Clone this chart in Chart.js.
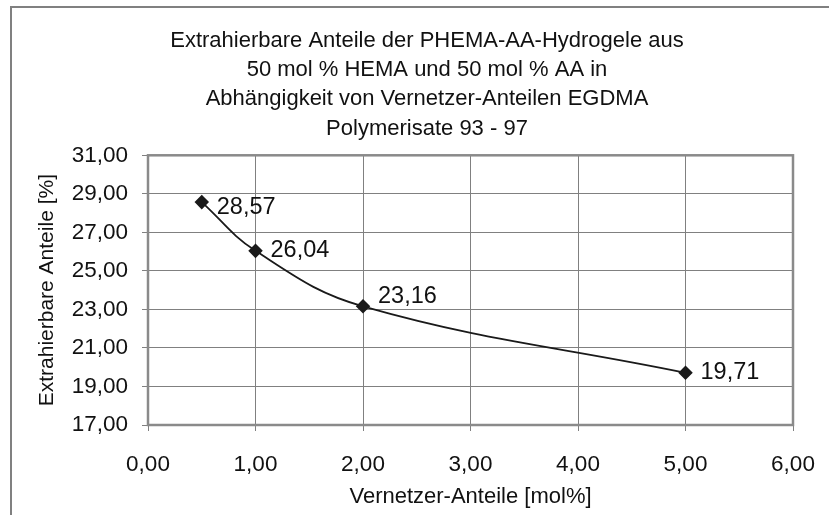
<!DOCTYPE html>
<html>
<head>
<meta charset="utf-8">
<script src="https://cdn.jsdelivr.net/npm/chart.js@4.4.1/dist/chart.umd.min.js"></script>
<style>
    html, body { margin: 0; padding: 0; background: #fff; overflow: hidden; }
    #frame {
        position: absolute; left: 10px; top: 6px;
        width: 860px; height: 560px;
        border: 2px solid #808080;
        background: #fff;
    }
    #wrap { position: absolute; left: 0; top: 0; width: 830px; height: 510px; }
</style>
</head>
<body>
<div id="frame"><div id="wrap"><canvas id="chart"></canvas></div></div>
<script>
// Vernetzer-Anteile [mol%] vs. extrahierbare Anteile [%]
const crosslinker = [0.5, 1, 2, 5];
const extractable = [28.57, 26.04, 23.16, 19.71];

const titleLines = [
    'Extrahierbare Anteile der PHEMA-AA-Hydrogele aus',
    '50 mol % HEMA und 50 mol % AA in',
    'Abhängigkeit von Vernetzer-Anteilen EGDMA',
    'Polymerisate 93 - 97'
];
const xTitle = 'Vernetzer-Anteile [mol%]';
const yTitle = 'Extrahierbare Anteile [%]';

const FONT = 'Arial, "Liberation Sans", sans-serif';
const fmt = v => v.toFixed(2).replace('.', ',');

// box around the plot area (Excel style)
const plotFrame = {
    id: 'plotFrame',
    afterDatasetsDraw(chart) {
        const { ctx, chartArea: a } = chart;
        ctx.save();
        ctx.strokeStyle = '#8a8a8a';
        ctx.lineWidth = 2.5;
        ctx.strokeRect(a.left, a.top, a.right - a.left, a.bottom - a.top);
        ctx.restore();
    }
};

// value labels right of each point
const valueLabels = {
    id: 'valueLabels',
    afterDraw(chart, args, opts) {
        const ctx = chart.ctx;
        const meta = chart.getDatasetMeta(0);
        ctx.save();
        ctx.font = '23.5px ' + FONT;
        ctx.fillStyle = '#111';
        ctx.textAlign = 'left';
        ctx.textBaseline = 'middle';
        meta.data.forEach((pt, i) => {
            const dy = (opts.dy && opts.dy[i]) || 0;
            ctx.fillText(fmt(extractable[i]), pt.x + 15, pt.y + dy);
        });
        ctx.restore();
    }
};

const ctx = document.getElementById('chart').getContext('2d');
new Chart(ctx, {
    type: 'scatter',
    data: {
        datasets: [{
            data: crosslinker.map((x, i) => ({ x: x, y: extractable[i] })),
            showLine: true,
            borderColor: '#1a1a1a',
            borderWidth: 1.8,
            tension: 0.4,
            pointStyle: 'rectRot',
            pointRadius: 6,
            pointBackgroundColor: '#1a1a1a',
            pointBorderColor: '#1a1a1a'
        }]
    },
    options: {
        responsive: true,
        maintainAspectRatio: false,
        animation: false,
        layout: { padding: { left: 0, right: 0, top: 0, bottom: 8 } },
        plugins: {
            legend: { display: false },
            tooltip: { enabled: false },
            title: {
                display: true,
                text: titleLines,
                color: '#111',
                font: { family: FONT, size: 22, weight: 'normal', lineHeight: 1.333 },
                padding: { top: 18, bottom: 12 }
            },
            valueLabels: { dy: [5, 0, -10, 0] }
        },
        scales: {
            x: {
                type: 'linear',
                min: 0, max: 6,
                afterFit(scale) { scale.height = 85; },
                ticks: {
                    stepSize: 1,
                    color: '#111',
                    padding: 20,
                    font: { family: FONT, size: 22.5 },
                    callback: v => fmt(v)
                },
                grid: { color: '#808080', lineWidth: 1, tickLength: 6, tickColor: '#808080' },
                border: { display: false },
                title: {
                    display: true,
                    text: xTitle,
                    color: '#111',
                    font: { family: FONT, size: 22 },
                    padding: { top: 0, bottom: 0 }
                }
            },
            y: {
                min: 17, max: 31,
                afterFit(scale) { scale.width = 136; },
                ticks: {
                    stepSize: 2,
                    color: '#111',
                    padding: 14,
                    font: { family: FONT, size: 22.5 },
                    callback: v => fmt(v)
                },
                grid: { color: '#808080', lineWidth: 1, tickLength: 6, tickColor: '#808080' },
                border: { display: false },
                title: {
                    display: true,
                    text: yTitle,
                    color: '#111',
                    font: { family: FONT, size: 21 },
                    padding: { top: 23, bottom: 0 }
                }
            },
            // empty axis that only holds the space right of the plot
            yRight: {
                position: 'right',
                afterFit(scale) { scale.width = 49; },
                ticks: { display: false },
                grid: { display: false, drawTicks: false },
                border: { display: false }
            }
        }
    },
    plugins: [plotFrame, valueLabels]
});
</script>
</body>
</html>
